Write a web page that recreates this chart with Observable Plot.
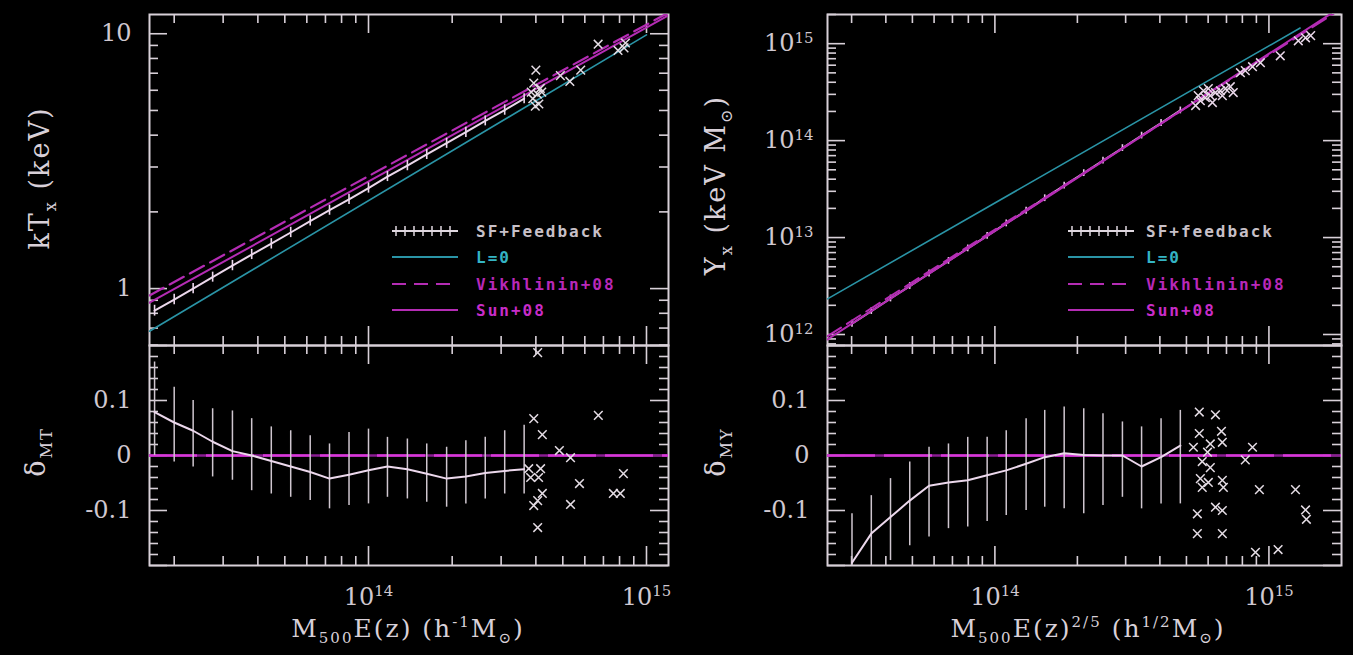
<!DOCTYPE html>
<html><head><meta charset="utf-8">
<script src="https://cdn.jsdelivr.net/npm/d3@7"></script>
<script src="https://cdn.jsdelivr.net/npm/@observablehq/plot@0.6"></script>
<style>
html,body{margin:0;padding:0;background:#000;}
#root{position:relative;width:1353px;height:655px;background:#000;overflow:hidden;font-family:"DejaVu Serif",serif;color:#d8d0d8;}
.panel{position:absolute;}
.t{position:absolute;white-space:nowrap;transform:translate(-50%,-50%);letter-spacing:2px;}
.rot{transform:translate(-50%,-50%) rotate(-90deg);}
.leg{position:absolute;font-family:"DejaVu Sans Mono",monospace;font-size:16px;font-weight:bold;white-space:nowrap;letter-spacing:2px;transform:translateY(-50%);}
.t sub,.t sup{font-size:60%;}
</style></head><body><div id="root"></div><script>
// ---------- DATA ----------
// Left column: M500 E(z) (h^-1 Msun) vs kT_x (keV)
const binM_T = [1.70e13, 2.0e13, 2.34e13, 2.75e13, 3.24e13, 3.80e13, 4.47e13, 5.25e13, 6.17e13, 7.24e13, 8.51e13, 1.0e14, 1.17e14, 1.38e14, 1.62e14, 1.91e14, 2.24e14, 2.63e14, 3.09e14, 3.63e14];
const kT    = [0.82, 0.906, 1.00, 1.11, 1.23, 1.36, 1.50, 1.66, 1.84, 2.03, 2.24, 2.48, 2.75, 3.04, 3.36, 3.72, 4.11, 4.55, 5.02, 5.56];
const kTlo  = [0.78, 0.865, 0.955, 1.06, 1.175, 1.30, 1.43, 1.585, 1.76, 1.94, 2.14, 2.37, 2.63, 2.90, 3.21, 3.55, 3.92, 4.35, 4.79, 5.31];
const kThi  = [0.86, 0.95, 1.047, 1.16, 1.29, 1.425, 1.57, 1.74, 1.93, 2.125, 2.345, 2.60, 2.88, 3.18, 3.52, 3.89, 4.30, 4.76, 5.26, 5.82];
const l0M_T = [1.63e13, 1.0e15],  l0T = [0.68, 9.9];
const vikM_T = [1.63e13, 1.2e15], vikT = [0.94, 12.1];
const sunM_T = [1.63e13, 1.2e15], sunT = [0.88, 11.8];
const obsM_T = [4.0e14, 3.93e14, 4.15e14, 4.05e14, 3.9e14, 4.1e14, 3.98e14, 4.2e14, 3.85e14, 4.9e14, 5.3e14, 5.8e14, 6.7e14, 7.9e14, 8.4e14, 8.3e14];
const obsT   = [7.2, 6.4, 6.1, 5.8, 5.56, 5.3, 5.2, 5.9, 5.9, 6.85, 6.5, 7.2, 9.1, 8.6, 9.2, 8.8];
const dMT   = [0.079, 0.06, 0.045, 0.025, 0.008, 0.0, -0.01, -0.02, -0.03, -0.042, -0.035, -0.027, -0.02, -0.025, -0.033, -0.042, -0.038, -0.032, -0.028, -0.025];
const dMTlo = [0.0, -0.012, -0.021, -0.039, -0.045, -0.064, -0.07, -0.076, -0.082, -0.097, -0.091, -0.088, -0.076, -0.079, -0.085, -0.094, -0.088, -0.079, -0.07, -0.07];
const dMThi = [0.17, 0.124, 0.1, 0.085, 0.081, 0.067, 0.052, 0.045, 0.036, 0.021, 0.042, 0.048, 0.033, 0.03, 0.021, 0.015, 0.027, 0.033, 0.045, 0.055];
const obsM_dT = [4.06e14, 3.93e14, 4.22e14, 6.71e14, 4.86e14, 5.33e14, 3.77e14, 4.16e14, 3.83e14, 4.09e14, 8.26e14, 5.74e14, 7.60e14, 8.05e14, 4.22e14, 4.06e14, 3.93e14, 5.33e14, 4.06e14];
const obsdT   = [0.187, 0.067, 0.038, 0.073, 0.009, -0.004, -0.024, -0.024, -0.04, -0.04, -0.033, -0.051, -0.069, -0.069, -0.069, -0.082, -0.091, -0.089, -0.131];

// Right column: M500 E(z)^(2/5) (h^1/2 Msun) vs Y_x (keV Msun)
const binM_Y = [3.01e13, 3.54e13, 4.16e13, 4.89e13, 5.75e13, 6.77e13, 7.96e13, 9.37e13, 1.10e14, 1.30e14, 1.52e14, 1.79e14, 2.11e14, 2.48e14, 2.92e14, 3.43e14, 4.04e14, 4.75e14];
const Yx    = [1.29e12, 1.74e12, 2.35e12, 3.16e12, 4.26e12, 5.74e12, 7.73e12, 1.04e13, 1.40e13, 1.89e13, 2.55e13, 3.43e13, 4.62e13, 6.22e13, 8.38e13, 1.13e14, 1.52e14, 2.05e14];
const Yxlo  = [1.19e12, 1.61e12, 2.17e12, 2.92e12, 3.93e12, 5.30e12, 7.13e12, 9.6e12, 1.29e13, 1.74e13, 2.35e13, 3.17e13, 4.26e13, 5.74e13, 7.73e13, 1.04e14, 1.40e14, 1.89e14];
const Yxhi  = [1.40e12, 1.89e12, 2.55e12, 3.43e12, 4.62e12, 6.22e12, 8.38e12, 1.13e13, 1.52e13, 2.05e13, 2.76e13, 3.72e13, 5.01e13, 6.74e13, 9.08e13, 1.22e14, 1.65e14, 2.22e14];
const l0M_Y = [2.45e13, 1.3e15],  l0Y = [2.33e12, 1.45e15];
const vikM_Y = [2.45e13, 1.84e15], vikY = [9.6e11, 2.3e15];
const sunM_Y = [2.45e13, 1.84e15], sunY = [8.9e11, 2.4e15];
const obsM_Y = [5.40e14, 5.62e14, 5.86e14, 6.11e14, 6.38e14, 6.65e14, 6.94e14, 7.23e14, 5.52e14, 6.22e14, 6.76e14, 5.77e14, 7.41e14, 6.01e14, 8.20e14, 8.71e14, 9.31e14, 7.87e14, 1.10e15, 1.28e15, 1.36e15, 1.42e15];
const obsY   = [2.30e14, 2.58e14, 2.77e14, 2.91e14, 3.13e14, 3.27e14, 3.44e14, 3.60e14, 2.91e14, 2.47e14, 2.91e14, 3.27e14, 3.13e14, 3.44e14, 5.27e14, 5.79e14, 6.37e14, 5.02e14, 7.5e14, 1.07e15, 1.15e15, 1.21e15];
const dMY   = [-0.195, -0.142, -0.112, -0.082, -0.055, -0.049, -0.045, -0.036, -0.027, -0.015, -0.003, 0.004, 0.001, 0.0, 0.0, -0.02, -0.003, 0.018];
const dMYlo = [-0.25, -0.22, -0.191, -0.164, -0.148, -0.133, -0.13, -0.12, -0.109, -0.1, -0.094, -0.097, -0.106, -0.091, -0.076, -0.097, -0.088, -0.088];
const dMYhi = [-0.106, -0.073, -0.042, -0.012, 0.015, 0.021, 0.033, 0.033, 0.045, 0.067, 0.082, 0.088, 0.085, 0.076, 0.061, 0.052, 0.067, 0.082];
const obsM_dY = [5.57e14, 6.38e14, 5.57e14, 6.71e14, 5.30e14, 6.11e14, 6.76e14, 8.71e14, 5.97e14, 8.20e14, 5.71e14, 6.11e14, 5.62e14, 6.01e14, 6.76e14, 5.71e14, 6.82e14, 9.23e14, 1.25e15, 6.38e14, 6.76e14, 5.48e14, 1.36e15, 1.37e15, 5.48e14, 6.76e14, 8.93e14, 1.08e15];
const obsdY   = [0.079, 0.074, 0.04, 0.044, 0.015, 0.021, 0.024, 0.015, 0.006, -0.008, -0.011, -0.022, -0.042, -0.049, -0.045, -0.058, -0.058, -0.062, -0.062, -0.094, -0.1, -0.106, -0.099, -0.116, -0.142, -0.142, -0.176, -0.171];

// Axis tick labels
const xTicksL = [1e14, 1e15];
const xTicksR = [1e14, 1e15];
const yTicksT = [1, 10];
const yTicksY = [1e12, 1e13, 1e14, 1e15];
const yTicksD = [-0.1, 0, 0.1];

const domXL = [1.63e13, 1.2e15], domXR = [2.45e13, 1.84e15];
const domT = [0.598, 11.9], domY = [7.7e11, 2.0e15], domD = [-0.2, 0.2];

// ---------- STYLE ----------
const FG = "#d8d0d8", CYAN = "#2a94a6", MAG = "#b42cb4", MAGB = "#d838d8", WHT = "#ecd8ec";
const root = document.getElementById("root");

function logTicks([a, b]) {
  const maj = [], min = [];
  for (let e = Math.floor(Math.log10(a)); e <= Math.ceil(Math.log10(b)); e++)
    for (let k = 1; k < 10; k++) { const v = k * Math.pow(10, e); if (v >= a && v <= b) (k === 1 ? maj : min).push(v); }
  return {maj, min};
}
function linTicks([a, b], step, majStep) {
  const maj = [], min = [];
  for (let v = a; v <= b + 1e-9; v += step) {
    const r = Math.round(v * 1000) / 1000;
    if (Math.abs(Math.round(r / majStep) * majStep - r) < 1e-6) maj.push(r); else min.push(r);
  }
  return {maj, min};
}
function box(xs, ys, iw, ih) {
  const s = {stroke: FG, strokeWidth: 1.6};
  return [
    Plot.tickX(xs.min, {x: d => d, insetTop: ih - 9, ...s}),
    Plot.tickX(xs.min, {x: d => d, insetBottom: ih - 9, ...s}),
    Plot.tickX(xs.maj, {x: d => d, insetTop: ih - 19, ...s}),
    Plot.tickX(xs.maj, {x: d => d, insetBottom: ih - 19, ...s}),
    Plot.tickY(ys.min, {y: d => d, insetRight: iw - 9, ...s}),
    Plot.tickY(ys.min, {y: d => d, insetLeft: iw - 9, ...s}),
    Plot.tickY(ys.maj, {y: d => d, insetRight: iw - 18, ...s}),
    Plot.tickY(ys.maj, {y: d => d, insetLeft: iw - 18, ...s}),
    Plot.frame({stroke: FG, strokeWidth: 2})
  ];
}
function sup(svg) {
  const ns = "http://www.w3.org/2000/svg";
  svg.querySelectorAll("text").forEach(t => {
    const m = t.textContent.match(/^10\^(\d+)$/);
    if (m) {
      t.textContent = "10";
      const ts = document.createElementNS(ns, "tspan");
      ts.setAttribute("dy", "-0.55em"); ts.setAttribute("font-size", "0.62em");
      ts.textContent = m[1]; t.appendChild(ts);
    }
  });
}
function panel(o) {
  const svg = Plot.plot({
    width: o.width, height: o.height,
    marginLeft: o.ml, marginRight: o.mr, marginTop: o.mt, marginBottom: o.mb,
    x: {type: "log", domain: o.xdom, axis: null},
    y: {...o.y, axis: null},
    style: {background: "transparent", color: FG, fontFamily: "DejaVu Serif", fontSize: "22px", overflow: "visible"},
    marks: o.marks
  });
  sup(svg);
  const div = document.createElement("div");
  div.className = "panel";
  div.style.left = o.left + "px"; div.style.top = o.top + "px";
  div.appendChild(svg); root.appendChild(div);
}
const pts = (xs, ys) => xs.map((x, i) => ({x, y: ys[i]}));
const bars = (xs, lo, hi) => xs.map((x, i) => ({x, y1: lo[i], y2: hi[i]}));
const expFmt = d => "10^" + Math.round(Math.log10(d));
const lblStyle = {fill: "#d0c8d0", letterSpacing: "2px"};

// ---- Left top ----
{
  const iw = 680 - 149 - 12, ih = 346 - 14 - 1;
  panel({left: 0, top: 0, width: 680, height: 346, ml: 149, mr: 12, mt: 14, mb: 1, xdom: domXL,
    y: {type: "log", domain: domT},
    marks: [
      ...box(logTicks(domXL), logTicks(domT), iw, ih),
      Plot.axisY({ticks: yTicksT, tickSize: 0, tickPadding: 18, tickFormat: d => String(d), label: null, ...lblStyle, fontSize: 24}),
      Plot.line(pts(l0M_T, l0T), {x: "x", y: "y", stroke: CYAN, strokeWidth: 1.6, clip: true}),
      Plot.line(pts(vikM_T, vikT), {x: "x", y: "y", stroke: MAG, strokeWidth: 2.2, strokeDasharray: "16,7", clip: true}),
      Plot.line(pts(sunM_T, sunT), {x: "x", y: "y", stroke: MAG, strokeWidth: 2, clip: true}),
      Plot.line(pts(binM_T, kT), {x: "x", y: "y", stroke: WHT, strokeWidth: 2, clip: true}),
      Plot.ruleX(bars(binM_T, kTlo, kThi), {x: "x", y1: "y1", y2: "y2", stroke: WHT, strokeWidth: 1.6, clip: true}),
      Plot.dot(pts(obsM_T, obsT), {x: "x", y: "y", symbol: "times", r: 4, stroke: "#e4dce4", strokeWidth: 1.5, clip: true})
    ]});
}
// ---- Left bottom ----
{
  const iw = 680 - 149 - 12, ih = 311 - 1 - 90;
  panel({left: 0, top: 344, width: 680, height: 311, ml: 149, mr: 12, mt: 1, mb: 90, xdom: domXL,
    y: {domain: domD},
    marks: [
      ...box(logTicks(domXL), linTicks(domD, 0.02, 0.1), iw, ih),
      Plot.axisY({ticks: yTicksD, tickSize: 0, tickPadding: 18, tickFormat: d => d === 0 ? "0" : (d < 0 ? "-" : "") + Math.abs(d).toFixed(1), label: null, ...lblStyle, fontSize: 24}),
      Plot.axisX({ticks: xTicksL, tickSize: 0, tickPadding: 22, tickFormat: expFmt, label: null, ...lblStyle, fontSize: 24}),
      Plot.ruleY([0], {stroke: "#8a1c92", strokeWidth: 2.5}),
      Plot.ruleY([0], {stroke: MAGB, strokeWidth: 2.5, strokeDasharray: "48,9"}),
      Plot.ruleX(bars(binM_T, dMTlo, dMThi), {x: "x", y1: "y1", y2: "y2", stroke: "#cfc6cf", strokeWidth: 1.5, clip: true}),
      Plot.line(pts(binM_T, dMT), {x: "x", y: "y", stroke: WHT, strokeWidth: 2, clip: true}),
      Plot.dot(pts(obsM_dT, obsdT), {x: "x", y: "y", symbol: "times", r: 4, stroke: "#e4dce4", strokeWidth: 1.5, clip: true})
    ]});
}
// ---- Right top ----
{
  const iw = 673 - 147 - 12, ih = 346 - 14 - 1;
  panel({left: 680, top: 0, width: 673, height: 346, ml: 147, mr: 12, mt: 14, mb: 1, xdom: domXR,
    y: {type: "log", domain: domY},
    marks: [
      ...box(logTicks(domXR), logTicks(domY), iw, ih),
      Plot.axisY({ticks: yTicksY, tickSize: 0, tickPadding: 14, tickFormat: expFmt, label: null, ...lblStyle, fontSize: 24}),
      Plot.line(pts(l0M_Y, l0Y), {x: "x", y: "y", stroke: CYAN, strokeWidth: 1.6, clip: true}),
      Plot.line(pts(binM_Y, Yx), {x: "x", y: "y", stroke: "#e8c4e8", strokeWidth: 2, clip: true}),
      Plot.ruleX(bars(binM_Y, Yxlo, Yxhi), {x: "x", y1: "y1", y2: "y2", stroke: "#ecc8ec", strokeWidth: 1.6, clip: true}),
      Plot.line(pts(vikM_Y, vikY), {x: "x", y: "y", stroke: MAG, strokeWidth: 2, strokeDasharray: "16,7", clip: true}),
      Plot.line(pts(sunM_Y, sunY), {x: "x", y: "y", stroke: MAG, strokeWidth: 2, clip: true}),
      Plot.dot(pts(obsM_Y, obsY), {x: "x", y: "y", symbol: "times", r: 4, stroke: "#ead8ea", strokeWidth: 1.5, clip: true})
    ]});
}
// ---- Right bottom ----
{
  const iw = 673 - 147 - 12, ih = 311 - 1 - 90;
  panel({left: 680, top: 344, width: 673, height: 311, ml: 147, mr: 12, mt: 1, mb: 90, xdom: domXR,
    y: {domain: domD},
    marks: [
      ...box(logTicks(domXR), linTicks(domD, 0.02, 0.1), iw, ih),
      Plot.axisY({ticks: yTicksD, tickSize: 0, tickPadding: 18, tickFormat: d => d === 0 ? "0" : (d < 0 ? "-" : "") + Math.abs(d).toFixed(1), label: null, ...lblStyle, fontSize: 24}),
      Plot.axisX({ticks: xTicksR, tickSize: 0, tickPadding: 22, tickFormat: expFmt, label: null, ...lblStyle, fontSize: 24}),
      Plot.ruleY([0], {stroke: "#8a1c92", strokeWidth: 2.5}),
      Plot.ruleY([0], {stroke: MAGB, strokeWidth: 2.5, strokeDasharray: "48,9"}),
      Plot.ruleX(bars(binM_Y, dMYlo, dMYhi), {x: "x", y1: "y1", y2: "y2", stroke: "#cfc6cf", strokeWidth: 1.5, clip: true}),
      Plot.line(pts(binM_Y, dMY), {x: "x", y: "y", stroke: WHT, strokeWidth: 2, clip: true}),
      Plot.dot(pts(obsM_dY, obsdY), {x: "x", y: "y", symbol: "times", r: 4, stroke: "#e4dce4", strokeWidth: 1.5, clip: true})
    ]});
}

// ---------- Axis titles (HTML text) ----------
function addText(html, x, y, size, rot) {
  const d = document.createElement("div");
  d.className = "t" + (rot ? " rot" : "");
  d.style.left = x + "px"; d.style.top = y + "px"; d.style.fontSize = size + "px";
  d.innerHTML = html; root.appendChild(d);
}
addText("M<sub>500</sub>E(z) (h<sup>-1</sup>M<sub>⊙</sub>)", 408, 630, 25);
addText("M<sub>500</sub>E(z)<sup>2/5</sup> (h<sup>1/2</sup>M<sub>⊙</sub>)", 1088, 630, 25);
addText("kT<sub>x</sub> (keV)", 42, 178, 27, true);
addText("Y<sub>x</sub> (keV M<sub>⊙</sub>)", 718, 185, 27, true);
addText("δ<sub>MT</sub>", 38, 452, 27, true);
addText("δ<sub>MY</sub>", 718, 452, 27, true);

// ---------- Legends ----------
const legItems = [
  {label: ["SF+Feedback", "SF+feedback"], color: "#c8c0c8", type: "err"},
  {label: ["L=0", "L=0"], color: "#34b4c4", line: CYAN, type: "solid"},
  {label: ["Vikhlinin+08", "Vikhlinin+08"], color: "#b828b8", line: MAG, type: "dash"},
  {label: ["Sun+08", "Sun+08"], color: "#c82cc8", line: MAG, type: "solid"}
];
const legRows = [231, 257, 284, 310];
function legend(x0, tx, which) {
  legItems.forEach((it, i) => {
    const y = legRows[i];
    const s = document.createElementNS("http://www.w3.org/2000/svg", "svg");
    s.setAttribute("width", 72); s.setAttribute("height", 16);
    s.style.position = "absolute"; s.style.left = x0 + "px"; s.style.top = (y - 8) + "px";
    let inner = "";
    if (it.type === "err") {
      inner = `<line x1="2" y1="8" x2="68" y2="8" stroke="#e0d8e0" stroke-width="2"/>`;
      for (let k = 0; k < 7; k++) inner += `<line x1="${6 + k * 9}" y1="3" x2="${6 + k * 9}" y2="13" stroke="#e0d8e0" stroke-width="1.5"/>`;
    } else {
      inner = `<line x1="2" y1="8" x2="68" y2="8" stroke="${it.line}" stroke-width="2" ${it.type === "dash" ? 'stroke-dasharray="14,8"' : ""}/>`;
    }
    s.innerHTML = inner; root.appendChild(s);
    const d = document.createElement("div");
    d.className = "leg"; d.style.left = tx + "px"; d.style.top = y + "px"; d.style.color = it.color;
    d.textContent = it.label[which]; root.appendChild(d);
  });
}
legend(390, 476, 0);
legend(1066, 1146, 1);
</script></body></html>
